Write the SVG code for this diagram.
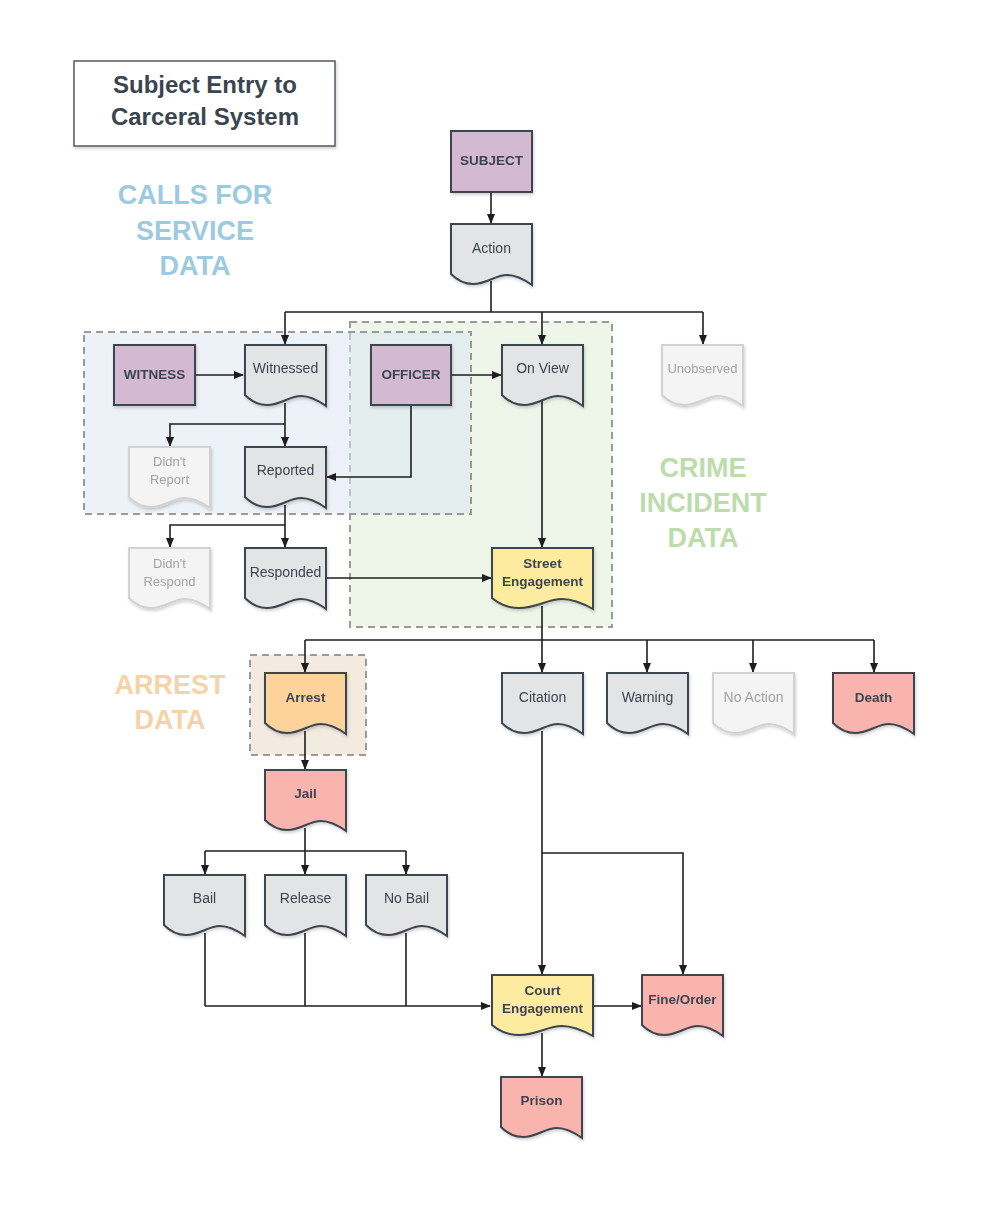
<svg xmlns="http://www.w3.org/2000/svg" xmlns:xlink="http://www.w3.org/1999/xlink" width="1000" height="1208" viewBox="0 0 1000 1208">
<style>
text{font-family:"Liberation Sans",Arial,sans-serif;text-anchor:middle;dominant-baseline:central}
.t{font-size:14px;fill:#3d4450}
.b{font-size:13.5px;font-weight:bold;fill:#3d4450}
.lt{font-size:14px;fill:#a3a3a3}
.gray{fill:#e3e4e6;stroke:#3d4450;stroke-width:2}
.light{fill:#f4f4f4;stroke:#d2d2d2;stroke-width:2}
.purple{fill:#d4b9d3;stroke:#3d4450;stroke-width:2}
.yellow{fill:#fdeba0;stroke:#3d4450;stroke-width:2}
.orange{fill:#fdd39b;stroke:#3d4450;stroke-width:2}
.pink{fill:#f9b5ad;stroke:#3d4450;stroke-width:2}
.zone{stroke:#9a9a9a;stroke-width:2;stroke-dasharray:7 5}
.c{fill:none;stroke:#1e1e1e;stroke-width:1.6}
.ca{fill:none;stroke:#1e1e1e;stroke-width:1.6;marker-end:url(#ah)}
.big{font-size:27px;font-weight:bold}
</style>
<defs>
<marker id="ah" markerWidth="10" markerHeight="10" refX="9" refY="5" orient="auto" markerUnits="userSpaceOnUse">
<path d="M0,1 L10,5 L0,9 Z" fill="#1e1e1e"/>
</marker>
<filter id="sh" x="-10%" y="-10%" width="130%" height="130%">
<feDropShadow dx="1" dy="2" stdDeviation="1.5" flood-color="#000" flood-opacity="0.18"/>
</filter>
<path id="doc" d="M0,0 H81 V61 C74,56 66,51 56,51 C44,51 36,60 22,60 C12,60 5,55 0,50 Z"/>
<path id="docw" d="M0,0 H101 V61 C92,56 82,51 70,51 C55,51 45,60 27,60 C15,60 6,55 0,50 Z"/>
</defs>
<rect width="1000" height="1208" fill="#ffffff"/>

<g id="zones">
<rect x="350" y="322" width="262" height="305" fill="#e3f0dc" fill-opacity="0.6" class="zone"/>
<rect x="84" y="332" width="387" height="182" fill="#dce7f1" fill-opacity="0.55" class="zone"/>
<rect x="250" y="655" width="116" height="100" fill="#f3ebe0" class="zone"/>
</g>

<g id="title">
<rect x="74" y="61" width="261" height="85" fill="#ffffff" stroke="#555a60" stroke-width="1.5" filter="url(#sh)"/>
<text x="205" y="84" style="font-size:24px;font-weight:bold;fill:#3a4550">Subject Entry to</text>
<text x="205" y="116" style="font-size:24px;font-weight:bold;fill:#3a4550">Carceral System</text>
</g>

<g id="zone-labels">
<text x="195" y="195" class="big" fill="#9ccae0">CALLS FOR</text>
<text x="195" y="231" class="big" fill="#9ccae0">SERVICE</text>
<text x="195" y="266" class="big" fill="#9ccae0">DATA</text>
<text x="703" y="468" class="big" fill="#bcdcab">CRIME</text>
<text x="703" y="503" class="big" fill="#bcdcab">INCIDENT</text>
<text x="703" y="538" class="big" fill="#bcdcab">DATA</text>
<text x="170" y="685" class="big" fill="#f6d3a6">ARREST</text>
<text x="170" y="720" class="big" fill="#f6d3a6">DATA</text>
</g>

<g id="connectors">
<path class="ca" d="M491,192 V223"/>
<path class="c" d="M491,281 V312"/>
<path class="c" d="M285,312 H703"/>
<path class="ca" d="M285,312 V344"/>
<path class="ca" d="M542,312 V344"/>
<path class="ca" d="M703,312 V344"/>
<path class="ca" d="M195,375 H243"/>
<path class="ca" d="M451,375 H501"/>
<path class="ca" d="M285,403 V446"/>
<path class="ca" d="M285,424 H170 V446"/>
<path class="ca" d="M411,405 V477 H327"/>
<path class="ca" d="M285,505 V547"/>
<path class="ca" d="M285,525 H170 V547"/>
<path class="ca" d="M326,578 H491"/>
<path class="ca" d="M542,401 V547"/>
<path class="c" d="M542,606 V640"/>
<path class="c" d="M305,640 H874"/>
<path class="ca" d="M305,640 V672"/>
<path class="ca" d="M542,640 V672"/>
<path class="ca" d="M647,640 V672"/>
<path class="ca" d="M753,640 V672"/>
<path class="ca" d="M874,640 V672"/>
<path class="ca" d="M305,731 V769"/>
<path class="c" d="M305,828 V851"/>
<path class="c" d="M205,851 H406"/>
<path class="ca" d="M205,851 V874"/>
<path class="ca" d="M305,851 V874"/>
<path class="ca" d="M406,851 V874"/>
<path class="c" d="M205,933 V1006"/>
<path class="c" d="M305,933 V1006"/>
<path class="c" d="M406,933 V1006"/>
<path class="ca" d="M205,1006 H490"/>
<path class="ca" d="M542,731 V974"/>
<path class="ca" d="M542,853 H683 V974"/>
<path class="ca" d="M593,1006 H641"/>
<path class="ca" d="M542,1033 V1076"/>
</g>

<g id="subject" filter="url(#sh)"><rect x="451" y="131" width="81" height="61" class="purple"/><text x="491.5" y="160" class="b">SUBJECT</text></g>
<g id="action" filter="url(#sh)"><use xlink:href="#doc" x="451" y="224" class="gray"/><text x="491.5" y="248" class="t">Action</text></g>
<g id="witness" filter="url(#sh)"><rect x="114" y="345" width="81" height="60" class="purple"/><text x="154.5" y="374" class="b">WITNESS</text></g>
<g id="witnessed" filter="url(#sh)"><use xlink:href="#doc" x="245" y="345" class="gray"/><text x="285.5" y="368" class="t">Witnessed</text></g>
<g id="officer" filter="url(#sh)"><rect x="371" y="345" width="80" height="60" class="purple"/><text x="411" y="374" class="b">OFFICER</text></g>
<g id="onview" filter="url(#sh)"><use xlink:href="#doc" x="502" y="345" class="gray"/><text x="542.5" y="368" class="t">On View</text></g>
<g id="unobserved" filter="url(#sh)"><use xlink:href="#doc" x="662" y="345" class="light"/><text x="702.5" y="368" class="lt" style="font-size:13px">Unobserved</text></g>
<g id="didnt-report" filter="url(#sh)"><use xlink:href="#doc" x="129" y="447" class="light"/><text x="169.5" y="461" class="lt" style="font-size:13px">Didn't</text><text x="169.5" y="479" class="lt" style="font-size:13px">Report</text></g>
<g id="reported" filter="url(#sh)"><use xlink:href="#doc" x="245" y="447" class="gray"/><text x="285.5" y="470" class="t">Reported</text></g>
<g id="didnt-respond" filter="url(#sh)"><use xlink:href="#doc" x="129" y="548" class="light"/><text x="169.5" y="563" class="lt" style="font-size:13px">Didn't</text><text x="169.5" y="581" class="lt" style="font-size:13px">Respond</text></g>
<g id="responded" filter="url(#sh)"><use xlink:href="#doc" x="245" y="548" class="gray"/><text x="285.5" y="572" class="t">Responded</text></g>
<g id="street" filter="url(#sh)"><use xlink:href="#docw" x="492" y="548" class="yellow"/><text x="542.5" y="563" class="b">Street</text><text x="542.5" y="581" class="b">Engagement</text></g>
<g id="arrest" filter="url(#sh)"><use xlink:href="#doc" x="265" y="673" class="orange"/><text x="305.5" y="697" class="b">Arrest</text></g>
<g id="jail" filter="url(#sh)"><use xlink:href="#doc" x="265" y="770" class="pink"/><text x="305.5" y="793" class="b">Jail</text></g>
<g id="citation" filter="url(#sh)"><use xlink:href="#doc" x="502" y="673" class="gray"/><text x="542.5" y="697" class="t">Citation</text></g>
<g id="warning" filter="url(#sh)"><use xlink:href="#doc" x="607" y="673" class="gray"/><text x="647.5" y="697" class="t">Warning</text></g>
<g id="noaction" filter="url(#sh)"><use xlink:href="#doc" x="713" y="673" class="light"/><text x="753.5" y="697" class="lt">No Action</text></g>
<g id="death" filter="url(#sh)"><use xlink:href="#doc" x="833" y="673" class="pink"/><text x="873.5" y="697" class="b">Death</text></g>
<g id="bail" filter="url(#sh)"><use xlink:href="#doc" x="164" y="875" class="gray"/><text x="204.5" y="898" class="t">Bail</text></g>
<g id="release" filter="url(#sh)"><use xlink:href="#doc" x="265" y="875" class="gray"/><text x="305.5" y="898" class="t">Release</text></g>
<g id="nobail" filter="url(#sh)"><use xlink:href="#doc" x="366" y="875" class="gray"/><text x="406.5" y="898" class="t">No Bail</text></g>
<g id="court" filter="url(#sh)"><use xlink:href="#docw" x="492" y="975" class="yellow"/><text x="542.5" y="990" class="b">Court</text><text x="542.5" y="1008" class="b">Engagement</text></g>
<g id="fine" filter="url(#sh)"><use xlink:href="#doc" x="642" y="975" class="pink"/><text x="682.5" y="999" class="b">Fine/Order</text></g>
<g id="prison" filter="url(#sh)"><use xlink:href="#doc" x="501" y="1077" class="pink"/><text x="541.5" y="1100" class="b">Prison</text></g>
</svg>
